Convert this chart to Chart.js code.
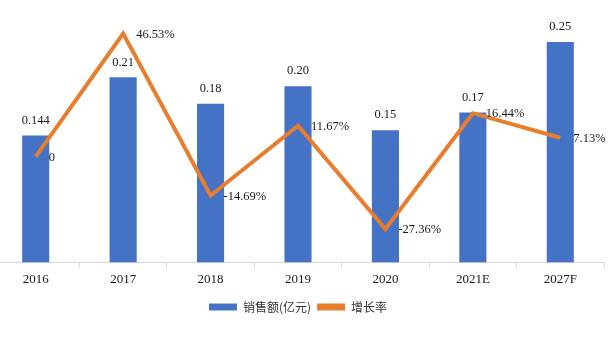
<!DOCTYPE html>
<html>
<head>
<meta charset="utf-8">
<script src="https://cdn.jsdelivr.net/npm/chart.js@4.4.1/dist/chart.umd.min.js"></script>
<style>
  html, body { margin: 0; padding: 0; background: #fff; overflow: hidden; }
  body { width: 616px; height: 339px; position: relative; }
  #wrap { position: absolute; left: -8px; top: -2px; width: 620px; height: 341px; }
</style>
</head>
<body>
<div id="wrap"><canvas id="c"></canvas></div>
<script>
const categories = ['2016', '2017', '2018', '2019', '2020', '2021E', '2027F'];
const salesValues = [0.144, 0.21, 0.18, 0.20, 0.15, 0.17, 0.25];
const salesLabels = ['0.144', '0.21', '0.18', '0.20', '0.15', '0.17', '0.25'];
const growthValues = [0, 46.53, -14.69, 11.67, -27.36, 16.44, 7.13];
const growthLabels = ['0', '46.53%', '-14.69%', '11.67%', '-27.36%', '16.44%', '7.13%'];
const seriesNames = ['销售额(亿元)', '增长率'];

const serif = '"Liberation Serif", "DejaVu Serif", serif';

const labelPlugin = {
  id: 'valueLabels',
  afterDatasetsDraw(chart) {
    const ctx = chart.ctx;
    ctx.save();
    ctx.font = '12.5px ' + serif;
    ctx.fillStyle = '#1a1a1a';
    const barMeta = chart.getDatasetMeta(0);
    ctx.textAlign = 'center';
    ctx.textBaseline = 'middle';
    barMeta.data.forEach((el, i) => {
      ctx.fillText(salesLabels[i], el.x, el.y - 15);
    });
    const lineMeta = chart.getDatasetMeta(1);
    ctx.textAlign = 'left';
    lineMeta.data.forEach((el, i) => {
      ctx.fillText(growthLabels[i], el.x + 13, el.y + 1);
    });
    ctx.restore();
  }
};

new Chart(document.getElementById('c'), {
  type: 'bar',
  data: {
    labels: categories,
    datasets: [
      {
        type: 'bar',
        label: seriesNames[0],
        data: salesValues,
        backgroundColor: '#4472C4',
        yAxisID: 'y',
        barPercentage: 0.62,
        categoryPercentage: 0.5,
        order: 1
      },
      {
        type: 'line',
        label: seriesNames[1],
        data: growthValues,
        borderColor: '#E87D2E',
        backgroundColor: '#E87D2E',
        borderWidth: 4,
        pointRadius: 0,
        tension: 0,
        yAxisID: 'y1',
        order: 0
      }
    ]
  },
  options: {
    responsive: true,
    maintainAspectRatio: false,
    animation: false,
    layout: { padding: { left: 0, right: 8, top: 0, bottom: 16 } },
    plugins: {
      tooltip: { enabled: false },
      legend: {
        position: 'bottom',
        labels: {
          sort: (a, b) => a.datasetIndex - b.datasetIndex,
          boxWidth: 28,
          boxHeight: 7,
          padding: 6,
          color: '#333',
          font: { family: '"Noto Sans CJK SC", sans-serif', size: 12 },
          generateLabels(chart) {
            const items = Chart.defaults.plugins.legend.labels.generateLabels(chart);
            items.forEach(it => { it.lineWidth = 0; it.strokeStyle = 'rgba(0,0,0,0)'; });
            return items;
          }
        }
      }
    },
    scales: {
      x: {
        offset: true,
        afterFit(scale) { scale.height += 4; },
        grid: {
          offset: true,
          drawOnChartArea: false,
          drawTicks: true,
          tickLength: 5,
          color: '#d9d9d9'
        },
        border: { display: true, color: '#d9d9d9', width: 1 },
        ticks: {
          padding: 4,
          color: '#1a1a1a',
          font: { family: serif, size: 13 },
          maxRotation: 0
        }
      },
      y: {
        display: false,
        min: 0,
        max: 0.3
      },
      y1: {
        display: false,
        position: 'right',
        min: -40,
        max: 60
      }
    }
  },
  plugins: [labelPlugin]
});
</script>
</body>
</html>
